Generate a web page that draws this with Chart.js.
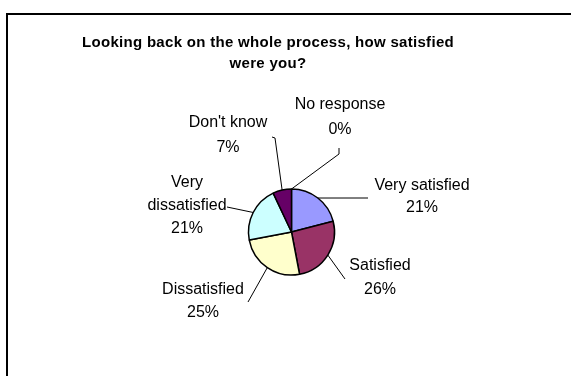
<!DOCTYPE html>
<html>
<head>
<meta charset="utf-8">
<title>Satisfaction with the process</title>
<script src="https://cdn.jsdelivr.net/npm/chart.js@4.4.0/dist/chart.umd.min.js"></script>
<style>
  html, body { margin: 0; padding: 0; background: #fff; }
  #wrap { position: relative; width: 571px; height: 376px; overflow: hidden; }
</style>
</head>
<body>
<div id="wrap"><canvas id="pie-chart" width="571" height="376"></canvas></div>
<script>
// Survey answers, clockwise from 12 o'clock
const categories = ['Very satisfied', 'Satisfied', 'Dissatisfied', 'Very dissatisfied', "Don't know", 'No response'];
const shares = [21, 26, 25, 21, 7, 0];
const sliceColors = ['#9999FF', '#993366', '#FFFFCC', '#CCFFFF', '#660066', '#FFFFFF'];
const titleLines = ['Looking back on the whole process, how satisfied', 'were you?'];

// Where each callout sits (text centre / first row, row gap) and where its leader line ends
const callouts = [
    { lines: ['Very satisfied'], x: 422, y: 186, gap: 22, end: [368, 198] },
    { lines: ['Satisfied'], x: 380, y: 266, gap: 24, end: [345, 279] },
    { lines: ['Dissatisfied'], x: 203, y: 290, gap: 23, end: [248, 302] },
    { lines: ['Very', 'dissatisfied'], x: 187, y: 183, gap: 23, end: [227, 207] },
    { lines: ["Don't know"], x: 228, y: 123, gap: 25, end: [275, 138], tick: [-3, -1] },
    { lines: ['No response'], x: 340, y: 105, gap: 25, end: [339, 154], tick: [0, -6] }
];

const LABEL_FONT = '16px "Liberation Sans", Arial, sans-serif';
const TITLE_FONT = 'bold 15px "Liberation Sans", Arial, sans-serif';

// Frame, title, callout text and leader lines
const calloutPlugin = {
    id: 'callouts',
    beforeDraw(chart) {
        const ctx = chart.ctx;
        ctx.save();
        ctx.strokeStyle = '#000';
        ctx.lineWidth = 2;
        ctx.beginPath();
        ctx.moveTo(7, 380);
        ctx.lineTo(7, 14);
        ctx.lineTo(575, 14);
        ctx.stroke();

        ctx.fillStyle = '#000';
        ctx.font = TITLE_FONT;
        ctx.letterSpacing = '0.3px';
        ctx.textAlign = 'center';
        ctx.textBaseline = 'middle';
        titleLines.forEach((line, i) => ctx.fillText(line, 268, 43 + i * 21));
        ctx.restore();
    },
    afterDraw(chart) {
        const ctx = chart.ctx;
        const arcs = chart.getDatasetMeta(0).data;
        ctx.save();
        ctx.strokeStyle = '#000';
        ctx.fillStyle = '#000';
        ctx.lineWidth = 1;
        ctx.font = LABEL_FONT;
        ctx.textAlign = 'center';
        ctx.textBaseline = 'middle';

        arcs.forEach((arc, i) => {
            const c = callouts[i];
            const mid = (arc.startAngle + arc.endAngle) / 2;
            const sx = arc.x + Math.cos(mid) * arc.outerRadius;
            const sy = arc.y + Math.sin(mid) * arc.outerRadius;

            ctx.beginPath();
            ctx.moveTo(sx, sy);
            ctx.lineTo(c.end[0], c.end[1]);
            if (c.tick) {
                ctx.lineTo(c.end[0] + c.tick[0], c.end[1] + c.tick[1]);
            }
            ctx.stroke();

            const rows = c.lines.concat([shares[i] + '%']);
            rows.forEach((row, r) => ctx.fillText(row, c.x, c.y + r * c.gap));
        });
        ctx.restore();
    }
};

const ctx = document.getElementById('pie-chart');
new Chart(ctx, {
    type: 'pie',
    data: {
        labels: categories,
        datasets: [{
            data: shares,
            backgroundColor: sliceColors,
            borderColor: '#000',
            borderWidth: 1.5,
            radius: 43
        }]
    },
    options: {
        responsive: false,
        animation: false,
        layout: {
            padding: { left: 248, right: 236, top: 189, bottom: 101 }
        },
        plugins: {
            legend: { display: false },
            tooltip: { enabled: false },
            title: { display: false }
        }
    },
    plugins: [calloutPlugin]
});
</script>
</body>
</html>
